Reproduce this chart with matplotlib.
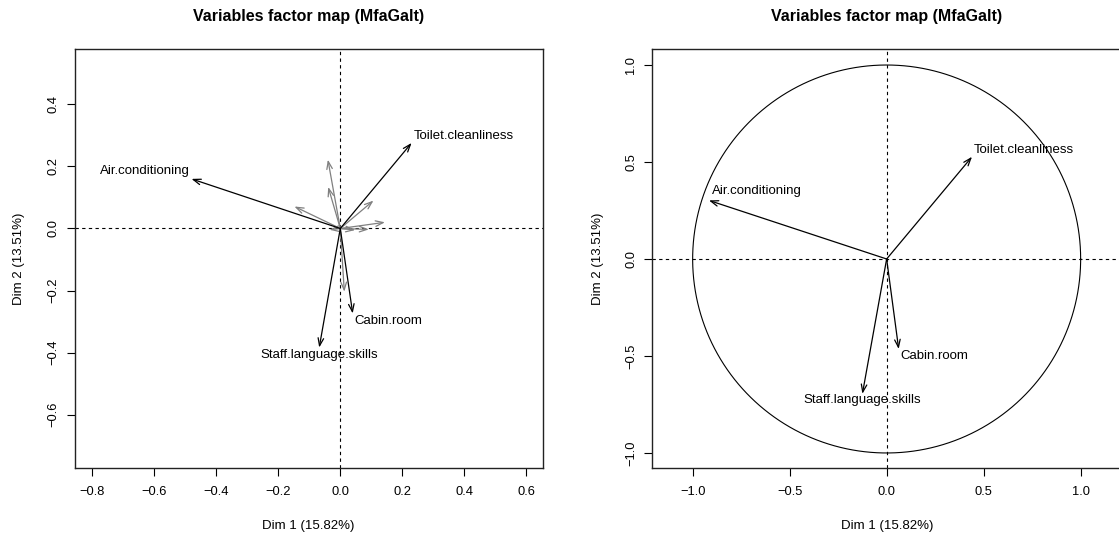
import numpy as np
import matplotlib
matplotlib.use('Agg')
import matplotlib.pyplot as plt
from matplotlib.ticker import FuncFormatter

plt.rcParams['font.family'] = ['Liberation Sans', 'DejaVu Sans']

TITLE = 'Variables factor map (MfaGalt)'
XLAB = 'Dim 1 (15.82%)'
YLAB = 'Dim 2 (13.51%)'

# active variables
var_names = ['Air.conditioning', 'Toilet.cleanliness', 'Cabin.room', 'Staff.language.skills']

# coordinates on the first two dimensions (left map)
coord_x = [-0.480, 0.230, 0.040, -0.068]
coord_y = [0.160, 0.276, -0.274, -0.384]

# remaining variables, drawn in grey without labels
other_x = [-0.040, -0.039, -0.148, 0.107, 0.144, 0.092, 0.048, -0.035, 0.013]
other_y = [0.222, 0.134, 0.071, 0.090, 0.020, -0.003, -0.005, -0.004, -0.204]

# correlations with the dimensions (right map, unit circle)
cor_x = [-0.916, 0.440, 0.062, -0.125]
cor_y = [0.302, 0.527, -0.464, -0.695]

left_xticks = [-0.8, -0.6, -0.4, -0.2, 0.0, 0.2, 0.4, 0.6]
left_yticks = [-0.6, -0.4, -0.2, 0.0, 0.2, 0.4]
right_ticks = [-1.0, -0.5, 0.0, 0.5, 1.0]

# label offsets in pixels: (dx, dy, ha)
left_lab = [(-2, 8, 'right'), (2, 7, 'left'), (2, -8, 'left'), (0, -7, 'center')]
right_lab = [(3, 9, 'left'), (2, 7, 'left'), (2, -7, 'left'), (0, -6, 'center')]

ARROW = '->,head_length=0.55,head_width=0.2'


def fmt(v, pos=None):
    s = '%.1f' % (round(v, 6) + 0.0)
    return s.replace('-', '\u2212')


def arrow(ax, x, y, color='black'):
    ax.annotate('', xy=(x, y), xytext=(0, 0),
                arrowprops=dict(arrowstyle=ARROW, color=color, lw=0.9,
                                shrinkA=0, shrinkB=0))


def frame(ax, xlim, ylim, xticks, yticks):
    ax.set_xlim(*xlim)
    ax.set_ylim(*ylim)
    ax.axhline(0, color='black', lw=0.8, ls=(0, (3, 3)))
    ax.axvline(0, color='black', lw=0.8, ls=(0, (3, 3)))
    ax.set_xticks(xticks)
    ax.set_yticks(yticks)
    ax.xaxis.set_major_formatter(FuncFormatter(fmt))
    ax.yaxis.set_major_formatter(FuncFormatter(fmt))
    ax.tick_params(axis='both', length=5.5, width=0.8, labelsize=9.3, direction='out')
    ax.tick_params(axis='x', pad=7)
    ax.tick_params(axis='y', pad=5.5, labelrotation=90)
    for lab in ax.get_yticklabels():
        lab.set_va('center')
    for sp in ax.spines.values():
        sp.set_linewidth(1.0)
        sp.set_color('#222222')


def labels(ax, xs, ys, offsets):
    for name, x, y, (dx, dy, ha) in zip(var_names, xs, ys, offsets):
        ax.annotate(name, xy=(x, y), xytext=(dx, dy), textcoords='offset pixels',
                    ha=ha, va='center', fontsize=9.5)


W, H = 1119, 539
fig = plt.figure(figsize=(W / 100, H / 100), dpi=100)

bottom = (H - 468.3) / H
height = (468.3 - 49.3) / H

ax1 = fig.add_axes([74.5 / W, bottom, (543 - 74.5) / W, height])
frame(ax1, (-0.8574, 0.6539), (-0.7735, 0.578), left_xticks, left_yticks)
for x, y in zip(other_x, other_y):
    arrow(ax1, x, y, color='#808080')
for x, y in zip(coord_x, coord_y):
    arrow(ax1, x, y)
labels(ax1, coord_x, coord_y, left_lab)

ax2 = fig.add_axes([652.3 / W, bottom, (1121 - 652.3) / W, height])
frame(ax2, (-1.208, 1.208), (-1.079, 1.081), right_ticks, right_ticks)
t = np.linspace(0, 2 * np.pi, 400)
ax2.plot(np.cos(t), np.sin(t), color='black', lw=0.8)
for x, y in zip(cor_x, cor_y):
    arrow(ax2, x, y)
labels(ax2, cor_x, cor_y, right_lab)

# titles and axis labels, centred on each plotting region
for cx, ylab_x in [(308.6, 19), (886.7, 598)]:
    fig.text(cx / W, 1 - 16 / H, TITLE, ha='center', va='center',
             fontsize=11.5, fontweight='bold')
    fig.text(cx / W, (H - 526.5) / H, XLAB, ha='center', va='center', fontsize=9.5)
    fig.text(ylab_x / W, 1 - 258.8 / H, YLAB, ha='center', va='center',
             fontsize=9.5, rotation=90)

fig.savefig('out.png', dpi=100)
